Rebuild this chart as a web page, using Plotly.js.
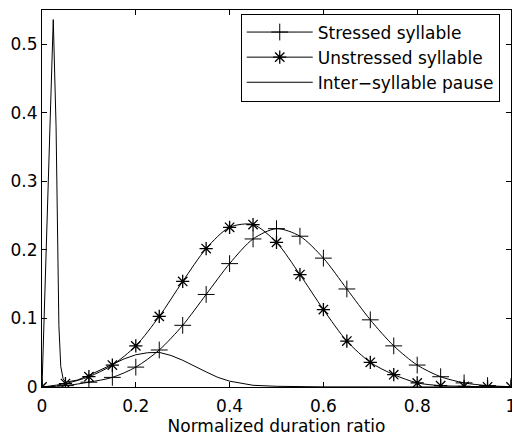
<!DOCTYPE html>
<html>
<head>
<meta charset="utf-8">
<script src="https://cdn.plot.ly/plotly-3.0.1.min.js"></script>
<style>html,body{margin:0;padding:0;background:#fff;}#chart{width:512px;height:436px;}</style>
</head>
<body>
<div id="chart"></div>
<script>
var xGrid = [0, 0.05, 0.1, 0.15, 0.2, 0.25, 0.3, 0.35, 0.4, 0.45, 0.5, 0.55, 0.6, 0.65, 0.7, 0.75, 0.8, 0.85, 0.9, 0.95, 1];
var stressed = [0, 0.002, 0.007, 0.014, 0.029, 0.054, 0.090, 0.135, 0.180, 0.216, 0.231, 0.220, 0.188, 0.143, 0.098, 0.060, 0.032, 0.015, 0.006, 0.002, 0.0005];
var unstressed = [0, 0.005, 0.015, 0.032, 0.060, 0.103, 0.154, 0.202, 0.233, 0.237, 0.211, 0.164, 0.113, 0.067, 0.036, 0.018, 0.006, 0.002, 0.001, 0.0003, 0.0001];
var pauseX = [0, 0.024, 0.03, 0.033, 0.036, 0.04, 0.045, 0.05, 0.075, 0.1, 0.125, 0.15, 0.175, 0.2, 0.225, 0.25, 0.275, 0.3, 0.325, 0.35, 0.375, 0.4, 0.45, 0.5, 0.6, 0.7, 0.8, 0.9, 1];
var pause = [0, 0.536, 0.38, 0.22, 0.09, 0.03, 0.012, 0.007, 0.010, 0.017, 0.025, 0.034, 0.041, 0.047, 0.050, 0.0505, 0.046, 0.039, 0.030, 0.022, 0.014, 0.0085, 0.0025, 0.001, 0.0002, 0, 0, 0, 0];
var xTicks = [0, 0.2, 0.4, 0.6, 0.8, 1];
var xTickLabels = ['0', '0.2', '0.4', '0.6', '0.8', '1'];
var yTicks = [0, 0.1, 0.2, 0.3, 0.4, 0.5];
var yTickLabels = ['0', '0.1', '0.2', '0.3', '0.4', '0.5'];
var names = ['Stressed syllable', 'Unstressed syllable', 'Inter\u2212syllable pause'];

var font = 'DejaVu Sans, Verdana, sans-serif';
var fs = 17;
var traces = [
  {x: xGrid, y: stressed, name: names[0], mode: 'lines+markers', type: 'scatter',
   line: {color: '#000', width: 1, shape: 'spline', smoothing: 0.8},
   marker: {symbol: 'cross-thin-open', size: 12, color: '#000', line: {color: '#000', width: 1}}},
  {x: xGrid, y: unstressed, name: names[1], mode: 'lines+markers', type: 'scatter',
   line: {color: '#000', width: 1, shape: 'spline', smoothing: 0.8},
   marker: {symbol: 'asterisk-open', size: 11, color: '#000', line: {color: '#000', width: 1.3}}},
  {x: pauseX, y: pause, name: names[2], mode: 'lines', type: 'scatter',
   line: {color: '#000', width: 1}}
];
var axisCommon = {
  showgrid: false, zeroline: false, showline: true, linecolor: '#000', linewidth: 1,
  mirror: 'allticks', ticks: 'inside', ticklen: 5, tickcolor: '#000', tickwidth: 1,
  tickfont: {family: font, size: fs, color: '#000'}, tickmode: 'array',
  ticklabeloverflow: 'allow'
};
var layout = {
  width: 512, height: 436,
  margin: {l: 42, r: 1, t: 10, b: 49},
  paper_bgcolor: '#fff', plot_bgcolor: '#fff',
  font: {family: font, color: '#000'},
  xaxis: Object.assign({}, axisCommon, {range: [0, 1], tickvals: xTicks, ticktext: xTickLabels,
    ticklabelstandoff: 4,
    title: {text: 'Normalized duration ratio', font: {family: font, size: fs, color: '#000'}, standoff: 1}}),
  yaxis: Object.assign({}, axisCommon, {range: [0, 0.55], tickvals: yTicks, ticktext: yTickLabels}),
  showlegend: true,
  legend: {x: 0.976, xanchor: 'right', y: 0.874, yanchor: 'middle', bgcolor: '#fff',
    bordercolor: '#000', borderwidth: 1, font: {family: font, size: fs, color: '#000'},
    itemwidth: 66, tracegroupgap: 0}
};
Plotly.newPlot('chart', traces, layout, {displayModeBar: false, staticPlot: true});
</script>
</body>
</html>
